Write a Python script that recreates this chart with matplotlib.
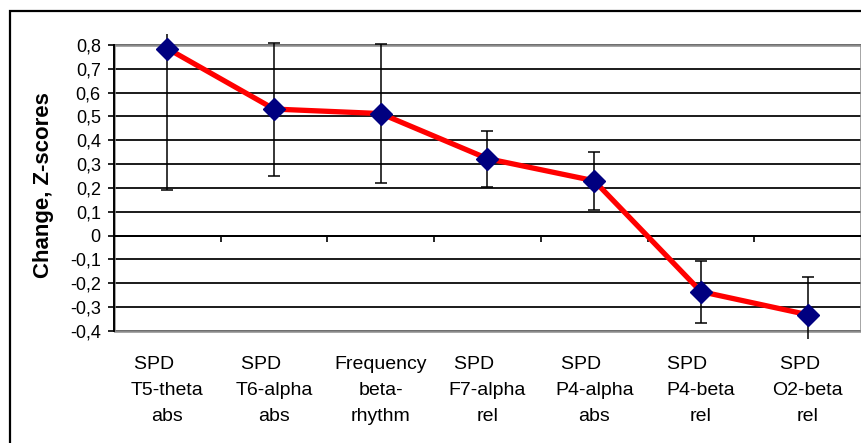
import numpy as np
import matplotlib
matplotlib.use("Agg")
import matplotlib.pyplot as plt
from matplotlib.patches import Rectangle

plt.rcParams['font.family'] = ['Liberation Sans', 'DejaVu Sans']

# mean change (Z-scores) per measure, with symmetric error bars
categories = ["SPD     \nT5-theta\nabs", "SPD     \nT6-alpha\nabs",
              "Frequency\nbeta-\nrhythm", "SPD     \nF7-alpha\nrel",
              "SPD     \nP4-alpha\nabs", "SPD     \nP4-beta\nrel",
              "SPD   \nO2-beta\nrel"]
values = [0.785, 0.531, 0.512, 0.323, 0.230, -0.235, -0.332]
errors = [0.595, 0.279, 0.290, 0.118, 0.122, 0.130, 0.160]

y_ticks = [-0.4, -0.3, -0.2, -0.1, 0.0, 0.1, 0.2, 0.3, 0.4, 0.5, 0.6, 0.7, 0.8]
y_tick_labels = ["-0,4", "-0,3", "-0,2", "-0,1", "0", "0,1", "0,2",
                 "0,3", "0,4", "0,5", "0,6", "0,7", "0,8"]

W, H = 862, 443
fig = plt.figure(figsize=(W / 100, H / 100), dpi=100)
ax = fig.add_axes([114 / W, 1 - 339 / H, (861 - 114) / W, (339 - 34) / H])

n = len(categories)
x = np.arange(n)
ax.set_xlim(-0.5, n - 0.5)
ax.set_ylim(-0.434, 0.846)

for s in ax.spines.values():
    s.set_visible(False)

# gridlines + plot area border
ax.set_yticks(y_ticks)
ax.set_yticklabels(y_tick_labels, fontsize=13)
ax.yaxis.grid(True, color='#1a1a1a', lw=1.4)
ax.set_axisbelow(True)
ax.add_patch(Rectangle((-0.5, y_ticks[0]), n, y_ticks[-1] - y_ticks[0],
                       fill=False, ec='#8a8a8a', lw=1.8, zorder=1))
ax.plot([-0.5, -0.5], [y_ticks[0], y_ticks[-1]], color='black', lw=1.4,
        clip_on=False, zorder=2)
ax.axhline(0, color='black', lw=1.4, zorder=2)
ax.vlines(np.arange(n - 1) + 0.5, 0, -0.026, color='black', lw=1.2, zorder=2)
ax.tick_params(axis='y', length=4, width=1.2, color='black', pad=5.5)

ax.set_xticks(x)
ax.set_xticklabels(categories, fontsize=14, linespacing=1.7)
ax.tick_params(axis='x', length=0, pad=12)

ax.errorbar(x, values, yerr=errors, fmt='none', ecolor='black', elinewidth=1.1,
            capsize=4, capthick=1.1, zorder=3)
ax.plot(x, values, color='#ff0000', lw=3.8, zorder=4)
ax.plot(x, values, ls='none', marker='D', ms=11, color='#000080', zorder=5)

fig.text(44 / W, 1 - 185 / H, "Change, Z-scores", rotation=90, fontsize=16,
         fontweight='bold', ha='center', va='center')

# chart frame, runs off the right and bottom edges
fig.patches.append(Rectangle((10 / W, -0.1), 2, 1 - 11 / H + 0.1,
                             transform=fig.transFigure, fill=False,
                             ec='black', lw=1.6))

fig.savefig("out.png", dpi=100)
